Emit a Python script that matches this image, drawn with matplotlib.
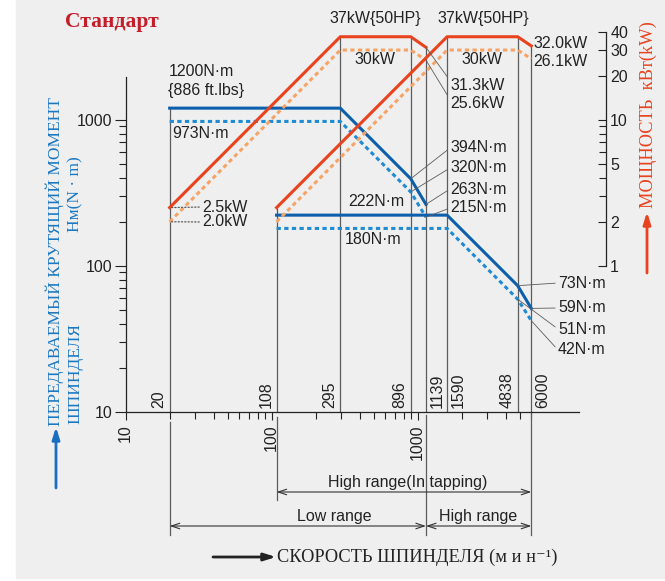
import matplotlib
matplotlib.use('Agg')
import matplotlib.pyplot as plt
from matplotlib.patches import Rectangle
from matplotlib.ticker import FixedLocator, FixedFormatter, NullFormatter

plt.rcParams['font.family'] = ['Liberation Sans', 'DejaVu Sans']

W, H = 665, 581

# spindle speed break points (min-1)
low_speed = [20, 295, 896, 1139]
high_speed = [108, 1590, 4838, 6000]
# torque N·m (solid = 37kW rating, dashed = 30kW rating)
low_torque = [1200, 1200, 394, 263]
low_torque_30 = [973, 973, 320, 215]
high_torque = [222, 222, 73, 51]
high_torque_30 = [180, 180, 59, 42]
# power kW
low_power = [2.5, 37, 37, 31.3]
low_power_30 = [2.0, 30, 30, 25.6]
high_power = [2.5, 37, 37, 32.0]
high_power_30 = [2.0, 30, 30, 26.1]

speed_marks = [20, 108, 295, 896, 1139, 1590, 4838, 6000]
mark_side = ['l', 'l', 'l', 'l', 'r', 'r', 'l', 'r']

BLUE = '#0b5fab'
BLUE_D = '#1e8bd3'
RED = '#e8431e'
ORANGE = '#f6a466'
GRAY = '#5c5c5c'
INK = '#222222'
SERIF = ['Liberation Serif', 'DejaVu Serif']

fig = plt.figure(figsize=(W / 100, H / 100), dpi=100)
fig.patches.append(Rectangle((16 / W, 3 / H), 1, 1, transform=fig.transFigure,
                             color='#efefef', zorder=-10))


def fp(x, y):
    # top-left pixel -> figure pixels
    return (x, H - y)


def ftext(x, y, s, **kw):
    fig.text(x / W, 1 - y / H, s, **kw)


# axes: x from 10 at px 125.7, 146 px per decade, y bottom at px 411.7
x0, yb, dec = 125.7, 411.7, 146.0
ax = fig.add_axes([x0 / W, (H - yb) / H, (606 - x0) / W, (yb - 20) / H])
ax.patch.set_alpha(0)
ax.set_xscale('log')
ax.set_yscale('log')
ax.set_xlim(10, 10 ** (1 + (606 - x0) / dec))
ax.set_ylim(10, 10 ** (1 + (yb - 20) / dec))

ax2 = ax.twinx()
ax2.set_yscale('log')
ax2.set_ylim(0.1, 0.1 * 10 ** ((yb - 20) / dec))

for s in ['top', 'right']:
    ax.spines[s].set_visible(False)
for s in ['top', 'left', 'bottom']:
    ax2.spines[s].set_visible(False)
ax.spines['left'].set_bounds(10, 1960)
ax.spines['bottom'].set_bounds(10, 12700)
ax2.spines['right'].set_bounds(1, 40)
for sp in [ax.spines['left'], ax.spines['bottom'], ax2.spines['right']]:
    sp.set_color(INK)
    sp.set_linewidth(0.9)

# x ticks
ax.xaxis.set_major_locator(FixedLocator([10, 100, 1000]))
ax.xaxis.set_major_formatter(FixedFormatter(['10', '100', '1000']))
ax.xaxis.set_minor_locator(FixedLocator([20, 30, 40, 50, 60, 70, 80, 90,
                                         200, 300, 400, 500, 600, 700, 800, 900,
                                         2000, 3000, 4000, 5000, 6000]))
ax.xaxis.set_minor_formatter(NullFormatter())
ax.tick_params(axis='x', which='major', length=6, width=0.8, color=INK, pad=3,
               labelsize=11.5, labelrotation=90, labelcolor=INK)
ax.tick_params(axis='x', which='minor', length=5, width=0.8, color=INK)

# left y ticks
ax.yaxis.set_major_locator(FixedLocator([10, 100, 1000]))
ax.yaxis.set_major_formatter(FixedFormatter(['10', '100', '1000']))
ax.yaxis.set_minor_locator(FixedLocator([20, 30, 40, 50, 60, 70, 80, 90,
                                         200, 300, 400, 500, 600, 700, 800, 900]))
ax.yaxis.set_minor_formatter(NullFormatter())
ax.tick_params(axis='y', which='major', length=8, width=0.8, color=INK, pad=1.5,
               labelsize=11.5, labelcolor=INK)
ax.tick_params(axis='y', which='minor', length=5, width=0.8, color=INK)

# right y ticks (power)
ax2.yaxis.set_major_locator(FixedLocator([1, 2, 5, 10, 20, 30, 40]))
ax2.yaxis.set_major_formatter(FixedFormatter(['1', '2', '5', '10', '20', '30', '40']))
ax2.yaxis.set_minor_locator(FixedLocator([3, 4, 6, 7, 8, 9]))
ax2.yaxis.set_minor_formatter(NullFormatter())
ax2.tick_params(axis='y', which='major', direction='in', length=6, width=0.8,
                color=INK, pad=3, labelsize=11.5, labelcolor=INK)
ax2.tick_params(axis='y', which='minor', direction='in', length=5, width=0.8, color=INK)


def power_to_torque(s, p):
    d = ax2.transData.transform((s, p))
    return ax.transData.inverted().transform(d)[1]


# vertical guide lines
ax.vlines(low_speed[0], 10, low_torque[0], color=GRAY, lw=0.9, zorder=1)
for s, p in zip(low_speed[1:] + high_speed, low_power[1:] + high_power):
    ax.vlines(s, 10, power_to_torque(s, p), color=GRAY, lw=0.9, zorder=1)

dash = (0, (1.4, 1.1))
# torque curves
ax.plot(low_speed, low_torque, color=BLUE, lw=2.2, zorder=3)
ax.plot(low_speed, low_torque_30, color=BLUE_D, lw=2.2, ls=dash, zorder=3)
ax.plot(high_speed, high_torque, color=BLUE, lw=2.2, zorder=3)
ax.plot(high_speed, high_torque_30, color=BLUE_D, lw=2.2, ls=dash, zorder=3)
# power curves
ax2.plot(low_speed, low_power, color=RED, lw=2.2, zorder=3)
ax2.plot(low_speed, low_power_30, color=ORANGE, lw=2.2, ls=dash, zorder=3)
ax2.plot(high_speed, high_power, color=RED, lw=2.2, zorder=3)
ax2.plot(high_speed, high_power_30, color=ORANGE, lw=2.2, ls=dash, zorder=3)

# speed marks above the axis
for s, side in zip(speed_marks, mark_side):
    ax.annotate(str(s), xy=(s, 10), xytext=(-3 if side == 'l' else 4, 4),
                textcoords='offset pixels', rotation=90, fontsize=11.5, color=INK,
                ha='right' if side == 'l' else 'left', va='bottom')

# plain value labels
fs = 11.5
for s, x, y, ha in [('1200N·m', 169, 72, 'left'), ('{886 ft.lbs}', 168, 90, 'left'),
                    ('973N·m', 172, 134, 'left'),
                    ('37kW{50HP}', 375, 19, 'center'), ('37kW{50HP}', 483, 19, 'center'),
                    ('30kW', 375, 60, 'center'), ('30kW', 482, 60, 'center'),
                    ('32.0kW', 533, 43, 'left'), ('26.1kW', 533, 62, 'left'),
                    ('222N·m', 376, 202, 'center'), ('180N·m', 373, 240, 'center')]:
    ftext(x, y, s, fontsize=fs, color=INK, ha=ha, va='center')

# labels with leader lines
lead = dict(arrowstyle='-', color=GRAY, lw=0.6, shrinkA=0, shrinkB=0)
dotted = dict(lead, ls=':', lw=0.9)
for a, s, xy, pos, props, rel in [
        (ax2, '2.5kW', (20, 2.5), (202, 207), dotted, 0.5),
        (ax2, '2.0kW', (20, 2.0), (202, 222), dotted, 0.5),
        (ax2, '31.3kW', (1139, 31.3), (450, 85), lead, 0.8),
        (ax2, '25.6kW', (1139, 25.6), (450, 104), lead, 0.8),
        (ax, '394N·m', (896, 394), (450, 148), lead, 0.5),
        (ax, '320N·m', (896, 320), (450, 168), lead, 0.5),
        (ax, '263N·m', (1139, 263), (450, 189), lead, 0.5),
        (ax, '215N·m', (1139, 215), (450, 208), lead, 0.5),
        (ax, '73N·m', (4838, 73), (558, 283), lead, 0.5),
        (ax, '59N·m', (6000, 51), (558, 308), lead, 0.5),
        (ax, '51N·m', (4838, 59), (558, 329), lead, 0.5),
        (ax, '42N·m', (6000, 42), (558, 350), lead, 0.5)]:
    a.annotate(s, xy=xy, xytext=fp(*pos), textcoords='figure pixels',
               fontsize=fs, color=INK, ha='left', va='center',
               arrowprops=dict(props, relpos=(0, rel)), annotation_clip=False, zorder=5)

# range arrows under the axis
xt = ax.get_xaxis_transform()


def ya(py):
    return (yb - py) / (yb - 20)


for s, top, bot in [(20, 422, 535), (108, 417, 500), (1139, 415, 535), (6000, 412, 535)]:
    ax.plot([s, s], [ya(top), ya(bot)], transform=xt, clip_on=False, color=GRAY, lw=0.9)
arr = dict(arrowstyle='<->,head_length=0.6,head_width=0.2', color='#333333', lw=0.8,
           shrinkA=0, shrinkB=0)
for a, b, py in [(108, 6000, 492), (20, 1139, 526), (1139, 6000, 526)]:
    ax.annotate('', xy=(b, ya(py)), xytext=(a, ya(py)), xycoords=xt, textcoords=xt,
                arrowprops=arr, annotation_clip=False)
ftext(408, 482, 'High range(In tapping)', fontsize=fs, color=INK, ha='center', va='center')
ftext(334, 516, 'Low range', fontsize=fs, color=INK, ha='center', va='center')
ftext(478, 516, 'High range', fontsize=fs, color=INK, ha='center', va='center')

# titles and axis captions
ftext(65, 22, 'Стандарт', fontsize=15.5, fontweight='bold', color='#c41e2a',
      family=SERIF, ha='left', va='center')
ftext(55, 426, 'ПЕРЕДАВАЕМЫЙ КРУТЯЩИЙ МОМЕНТ', fontsize=12.5, color='#1a78c2',
      family=SERIF, rotation=90, ha='center', va='bottom')
ftext(75, 424, 'ШПИНДЕЛЯ', fontsize=12.5, color='#1a78c2', family=SERIF,
      rotation=90, ha='center', va='bottom')
ftext(75, 194, 'Нм(N · m)', fontsize=12.5, color='#1a78c2', family=SERIF,
      rotation=90, ha='center', va='center')
ftext(648, 208, 'МОЩНОСТЬ  кВт(kW)', fontsize=13.2, color=RED, family=SERIF,
      rotation=90, ha='center', va='bottom')
ftext(277, 557, 'СКОРОСТЬ ШПИНДЕЛЯ (м и н⁻¹)', fontsize=13.2, color=INK, family=SERIF,
      ha='left', va='center')

head = '-|>,head_length=0.7,head_width=0.22'
fig.add_artist(plt.Annotation('', xy=fp(56, 427), xytext=fp(56, 488), xycoords='figure pixels',
                              arrowprops=dict(arrowstyle=head, color='#1a6fc0', lw=2,
                                              shrinkA=0, shrinkB=0)))
fig.add_artist(plt.Annotation('', xy=fp(647, 212), xytext=fp(647, 273), xycoords='figure pixels',
                              arrowprops=dict(arrowstyle=head, color=RED, lw=2,
                                              shrinkA=0, shrinkB=0)))
fig.add_artist(plt.Annotation('', xy=fp(276, 557), xytext=fp(213, 557), xycoords='figure pixels',
                              arrowprops=dict(arrowstyle=head, color=INK, lw=2,
                                              shrinkA=0, shrinkB=0)))

fig.savefig('out.png', dpi=100, facecolor='white')
